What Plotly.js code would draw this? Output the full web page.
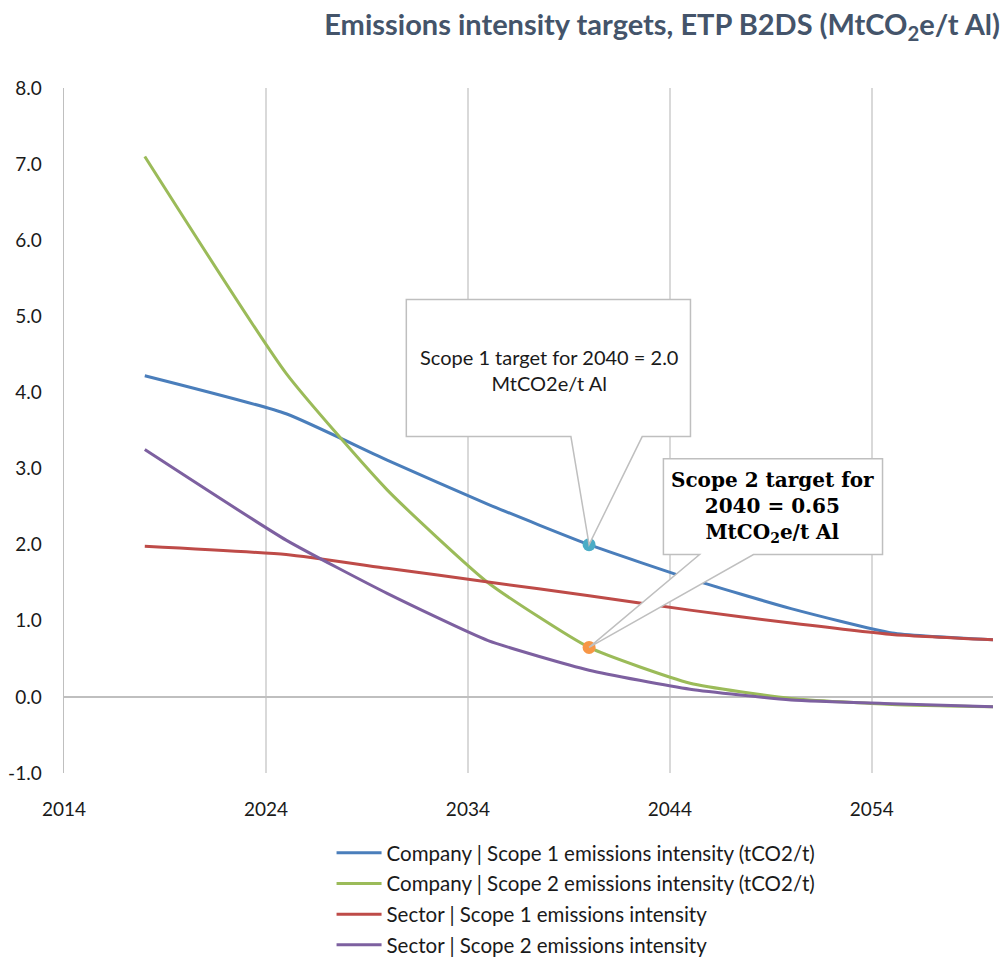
<!DOCTYPE html>
<html><head><meta charset="utf-8">
<script src="https://cdn.plot.ly/plotly-3.0.1.min.js"></script>
<style>html,body{margin:0;padding:0;background:#fff;}</style>
</head><body>
<div id="chart" style="width:1003px;height:974px;"></div>
<script>
const years = [2018, 2025, 2030, 2035, 2040, 2045, 2050, 2055, 2060];
const companyScope1 = [4.22, 3.72, 3.11, 2.53, 2.00, 1.55, 1.16, 0.84, 0.75];
const companyScope2 = [7.10, 4.25, 2.72, 1.50, 0.65, 0.18, -0.02, -0.10, -0.13];
const sectorScope1 = [1.98, 1.87, 1.69, 1.51, 1.33, 1.14, 0.97, 0.82, 0.75];
const sectorScope2 = [3.25, 2.06, 1.36, 0.74, 0.35, 0.10, -0.04, -0.09, -0.13];
const seriesNames = [
  'Company | Scope 1 emissions intensity (tCO2/t)',
  'Company | Scope 2 emissions intensity (tCO2/t)',
  'Sector | Scope 1 emissions intensity',
  'Sector | Scope 2 emissions intensity'
];
const targetYear = 2040;
const scope1Target = 2.0;
const scope2Target = 0.65;
const xTickVals = [2014, 2024, 2034, 2044, 2054];
const yTickVals = [-1, 0, 1, 2, 3, 4, 5, 6, 7, 8];

const colors = ['#4A7EBB', '#9BBB59', '#BE4B48', '#7D60A0'];
const seriesValues = [companyScope1, companyScope2, sectorScope1, sectorScope2];

const traces = seriesValues.map((vals, i) => ({
  x: years, y: vals, name: seriesNames[i], type: 'scatter', mode: 'lines',
  line: {color: colors[i], width: 3, shape: 'spline', smoothing: 0.5},
  legendgroup: 'g' + i, hoverinfo: 'skip'
}));
traces.push({x: [targetYear], y: [scope1Target], mode: 'markers', type: 'scatter',
  marker: {color: '#4BACC6', size: 13}, showlegend: false, hoverinfo: 'skip'});
traces.push({x: [targetYear], y: [scope2Target], mode: 'markers', type: 'scatter',
  marker: {color: '#F79646', size: 13}, showlegend: false, hoverinfo: 'skip'});

// callout outline (box + pointer) in data units
function callout(x0, x1, yTop, yBot, b1, b2, px, py) {
  return {type: 'path', xref: 'x', yref: 'y',
    path: `M${x0},${yTop} L${x1},${yTop} L${x1},${yBot} L${b2},${yBot} L${px},${py} L${b1},${yBot} L${x0},${yBot} Z`,
    fillcolor: '#ffffff', line: {color: '#BFBFBF', width: 1.5}, layer: 'above'};
}
const shapes = [
  callout(2030.95, 2045.02, 5.22, 3.42, 2039.1, 2042.63, targetYear, scope1Target),
  callout(2043.68, 2054.53, 3.13, 1.87, 2045.47, 2048.14, targetYear, scope2Target)
];

const layout = {
  width: 1003, height: 974,
  margin: {l: 64, r: 10, t: 88, b: 201, autoexpand: false},
  paper_bgcolor: '#ffffff', plot_bgcolor: '#ffffff',
  font: {family: 'Lato, "Open Sans", sans-serif', color: '#1a1a1a', size: 19},
  title: {text: 'Emissions intensity targets, ETP B2DS (MtCO<sub>2</sub>e/t Al)',
    font: {family: 'Lato, "Open Sans", sans-serif', size: 29, color: '#44546A', weight: 'bold'},
    xref: 'container', yref: 'container', x: 0.997, xanchor: 'right', y: 0.975, yanchor: 'middle'},
  xaxis: {range: [2014, 2060], tickvals: xTickVals, ticktext: xTickVals.map(String),
    showgrid: true, gridcolor: '#D9D9D9', gridwidth: 1.5, zeroline: false, showline: false,
    ticks: 'outside', ticklen: 19, tickcolor: 'rgba(0,0,0,0)', tickfont: {size: 19}},
  yaxis: {range: [-1, 8], tickvals: yTickVals, ticktext: yTickVals.map(v => v.toFixed(1)),
    showgrid: false,
    zeroline: true, zerolinecolor: '#BFBFBF', zerolinewidth: 1.5,
    showline: true, linecolor: '#BFBFBF', linewidth: 1.5,
    ticks: 'outside', ticklen: 17, tickcolor: 'rgba(0,0,0,0)', tickfont: {size: 19}},
  showlegend: true,
  legend: {x: 0.288, xanchor: 'left', y: -0.0876, yanchor: 'top', orientation: 'v',
    traceorder: 'grouped', tracegroupgap: 1, itemwidth: 45,
    font: {size: 20.5, color: '#1a1a1a'}, bgcolor: 'rgba(0,0,0,0)'},
  shapes: shapes,
  annotations: [
    {x: 2038.0, y: 4.3, xref: 'x', yref: 'y', showarrow: false,
     text: 'Scope 1 target for 2040 = 2.0<br>MtCO2e/t Al',
     font: {size: 20, color: '#1a1a1a'}, align: 'center'},
    {x: 2049.1, y: 2.5, xref: 'x', yref: 'y', showarrow: false,
     text: '<b>Scope 2 target for<br>2040 = 0.65<br>MtCO<sub>2</sub>e/t Al</b>',
     font: {size: 20, color: '#000000', family: '"DejaVu Serif", "Liberation Serif", serif'}, align: 'center'}
  ]
};
Plotly.newPlot('chart', traces, layout, {displayModeBar: false, staticPlot: true});
</script>
</body></html>
